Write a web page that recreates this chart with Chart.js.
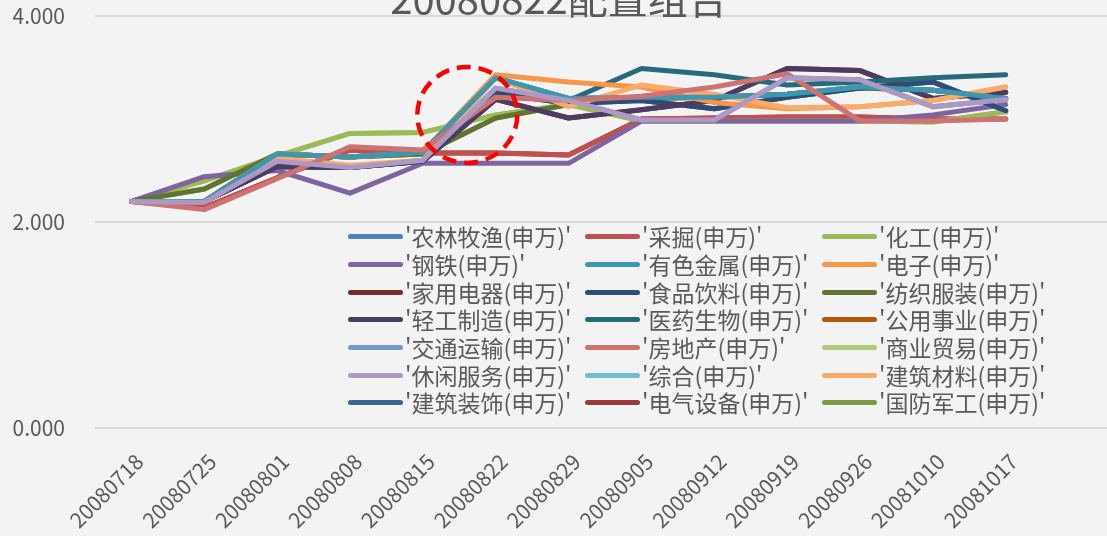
<!DOCTYPE html>
<html lang="zh">
<head>
    <meta charset="UTF-8">
    <title>20080822配置组合</title>
    <script src="https://cdn.jsdelivr.net/npm/chart.js"></script>
    <style>
        body {
            margin: 0;
            padding: 0;
            background-color: #f3f3f3;
            overflow: hidden;
            font-family: 'Noto Sans CJK SC', 'Noto Sans', sans-serif;
            color: #595959;
        }

        .wrap {
            position: relative;
            width: 1107px;
            height: 536px;
            overflow: hidden;
        }

        canvas {
            position: absolute;
            left: 0;
            top: 0;
        }

        .title {
            position: absolute;
            left: 0;
            width: 1118px;
            top: -23px;
            text-align: center;
            font-size: 40px;
            line-height: 40px;
            white-space: nowrap;
        }

        .legend {
            position: absolute;
            left: 348px;
            top: 223px;
            display: grid;
            grid-template-columns: 237px 237px 237px;
            grid-auto-rows: 27.7px;
        }

        .legend-item {
            display: flex;
            align-items: center;
            white-space: nowrap;
        }

        .legend-item span.swatch {
            display: inline-block;
            width: 55px;
            height: 5px;
            border-radius: 3px;
            margin-right: 2px;
        }

        .legend-item span.label {
            font-size: 23px;
            line-height: 1;
        }
    </style>
</head>
<body>
    <div class="wrap">
        <canvas id="chart" width="1115" height="560"></canvas>
        <div class="title">20080822配置组合</div>
        <div class="legend" id="legend"></div>
    </div>

    <script>
        // 日期（横轴）
        const dates = ['20080718', '20080725', '20080801', '20080808', '20080815', '20080822', '20080829',
                       '20080905', '20080912', '20080919', '20080926', '20081010', '20081017'];

        // 各行业指数
        const nonglin   = [2.20, 2.19, 2.59, 2.53, 2.60, 3.30, 3.18, 2.99, 2.99, 3.40, 3.38, 3.12, 3.19];
        const caijue    = [2.20, 2.14, 2.43, 2.70, 2.67, 2.67, 2.65, 3.00, 3.01, 3.02, 3.02, 3.00, 3.00];
        const huagong   = [2.20, 2.40, 2.64, 2.86, 2.87, 3.04, 3.14, 2.98, 2.98, 2.98, 2.98, 2.97, 3.07];
        const gangtie   = [2.20, 2.44, 2.50, 2.28, 2.57, 2.57, 2.57, 2.98, 2.98, 2.98, 2.98, 3.04, 3.14];
        const youse     = [2.20, 2.20, 2.66, 2.63, 2.68, 3.40, 3.20, 3.21, 3.21, 3.24, 3.31, 3.28, 3.20];
        const dianzi    = [2.20, 2.20, 2.66, 2.63, 2.68, 3.43, 3.36, 3.31, 3.16, 3.10, 3.12, 3.18, 3.31];
        const jiadian   = [2.20, 2.20, 2.54, 2.53, 2.59, 3.19, 3.01, 3.09, 3.18, 3.49, 3.47, 3.20, 3.26];
        const shipin    = [2.20, 2.20, 2.54, 2.53, 2.59, 3.25, 3.15, 3.18, 3.10, 3.21, 3.30, 3.36, 3.08];
        const fangzhi   = [2.20, 2.32, 2.66, 2.63, 2.66, 3.01, 3.14, 3.20, 3.21, 3.24, 3.30, 3.28, 3.20];
        const qinggong  = [2.20, 2.20, 2.54, 2.53, 2.59, 3.19, 3.01, 3.09, 3.18, 3.49, 3.47, 3.20, 3.26];
        const yiyao     = [2.20, 2.20, 2.66, 2.63, 2.68, 3.40, 3.18, 3.49, 3.43, 3.33, 3.36, 3.40, 3.43];
        const gongyong  = [2.20, 2.20, 2.66, 2.63, 2.68, 3.40, 3.20, 3.21, 3.21, 3.24, 3.31, 3.28, 3.20];
        const jiaotong  = [2.20, 2.20, 2.66, 2.63, 2.68, 3.40, 3.20, 3.21, 3.21, 3.24, 3.31, 3.28, 3.20];
        const fangdichan = [2.20, 2.12, 2.42, 2.73, 2.70, 3.21, 3.18, 3.22, 3.31, 3.44, 2.98, 2.98, 3.00];
        const shangye   = [2.20, 2.40, 2.64, 2.86, 2.87, 3.04, 3.14, 2.98, 2.98, 2.98, 2.98, 2.97, 3.07];
        const xiuxian   = [2.20, 2.19, 2.59, 2.53, 2.60, 3.30, 3.18, 2.99, 2.99, 3.40, 3.38, 3.12, 3.19];
        const zonghe    = [2.20, 2.20, 2.66, 2.63, 2.68, 3.40, 3.20, 3.21, 3.21, 3.24, 3.31, 3.28, 3.20];
        const jiancai   = [2.20, 2.20, 2.62, 2.55, 2.60, 3.40, 3.12, 3.33, 3.24, 3.11, 3.12, 3.18, 3.31];
        const jianzhu   = [2.20, 2.20, 2.54, 2.53, 2.59, 3.25, 3.15, 3.18, 3.10, 3.21, 3.30, 3.36, 3.08];
        const dianqi    = [2.20, 2.14, 2.43, 2.70, 2.67, 2.67, 2.65, 3.00, 3.01, 3.02, 3.02, 3.00, 3.00];
        const guofang   = [2.20, 2.32, 2.66, 2.63, 2.66, 3.01, 3.14, 3.20, 3.21, 3.24, 3.30, 3.28, 3.20];

        const seriesNames = ["'农林牧渔(申万)'", "'采掘(申万)'", "'化工(申万)'",
                             "'钢铁(申万)'", "'有色金属(申万)'", "'电子(申万)'",
                             "'家用电器(申万)'", "'食品饮料(申万)'", "'纺织服装(申万)'",
                             "'轻工制造(申万)'", "'医药生物(申万)'", "'公用事业(申万)'",
                             "'交通运输(申万)'", "'房地产(申万)'", "'商业贸易(申万)'",
                             "'休闲服务(申万)'", "'综合(申万)'", "'建筑材料(申万)'",
                             "'建筑装饰(申万)'", "'电气设备(申万)'", "'国防军工(申万)'"];
        const seriesValues = [nonglin, caijue, huagong, gangtie, youse, dianzi, jiadian, shipin, fangzhi,
                              qinggong, yiyao, gongyong, jiaotong, fangdichan, shangye, xiuxian, zonghe,
                              jiancai, jianzhu, dianqi, guofang];
        const seriesColors = ['#4F81BD', '#C0504D', '#9BBB59', '#8064A2', '#3D97B1', '#F79646',
                              '#772C2A', '#2C4D75', '#5F7530', '#4D3B62', '#276A7C', '#B65708',
                              '#729ACA', '#CD7371', '#AFC97A', '#AC9AC4', '#6FBDD1', '#F9AB6B',
                              '#3A6595', '#9C3C39', '#7E9B44'];

        // 绘制层次：从下到上
        const zStack = [0, 6, 11, 12, 14, 16, 18, 19, 20,
                        1, 2, 3, 8, 7, 9, 10, 5, 17, 4, 13, 15];

        const datasets = seriesNames.map((name, i) => ({
            label: name,
            data: seriesValues[i],
            borderColor: seriesColors[i],
            backgroundColor: seriesColors[i],
            borderWidth: 5,
            borderCapStyle: 'round',
            borderJoinStyle: 'round',
            pointRadius: 0,
            pointHoverRadius: 0,
            tension: 0,
            fill: false,
            order: -zStack.indexOf(i)
        }));

        // 红色虚线圈
        const circlePlugin = {
            id: 'redCircle',
            afterDatasetsDraw(chart) {
                const ctx = chart.ctx;
                const x = chart.scales.x.getPixelForValue(4.61);
                const y = chart.scales.y.getPixelForValue(3.04);
                ctx.save();
                ctx.strokeStyle = '#ff0000';
                ctx.lineWidth = 4.5;
                ctx.setLineDash([14, 8]);
                ctx.beginPath();
                ctx.ellipse(x, y, 50, 48, 0, 0, Math.PI * 2);
                ctx.stroke();
                ctx.restore();
            }
        };

        const chart = new Chart(document.getElementById('chart').getContext('2d'), {
            type: 'line',
            data: {
                labels: dates.concat(['']),   // 右侧还有一个空的类别位置
                datasets: datasets
            },
            options: {
                responsive: false,
                animation: false,
                devicePixelRatio: 1,
                layout: {
                    padding: { top: 16, left: 0, right: 0, bottom: 0 }
                },
                plugins: {
                    legend: { display: false },
                    title: { display: false },
                    tooltip: { enabled: false }
                },
                scales: {
                    x: {
                        offset: true,
                        grid: { display: false },
                        border: { display: false },
                        ticks: {
                            autoSkip: false,
                            minRotation: 45,
                            maxRotation: 45,
                            labelOffset: 8,
                            padding: 13,
                            color: '#595959',
                            font: { family: "'Noto Sans CJK SC'", size: 21 }
                        },
                        afterFit(scale) {
                            scale.height = 132;
                        }
                    },
                    y: {
                        min: 0,
                        max: 4,
                        ticks: {
                            stepSize: 2,
                            padding: 30,
                            color: '#595959',
                            font: { family: "'Noto Sans CJK SC'", size: 21 },
                            callback: v => v.toFixed(3)
                        },
                        grid: {
                            color: '#d9d9d9',
                            lineWidth: 2,
                            drawTicks: false
                        },
                        border: { display: false },
                        afterFit(scale) {
                            scale.width = 95;
                            // 刻度间距不要撑大上下边距
                            scale.paddingTop = 0;
                            scale.paddingBottom = 0;
                        }
                    }
                }
            },
            plugins: [circlePlugin]
        });

        // 图例（三列，放在绘图区内）
        const legendBox = document.getElementById('legend');
        chart.data.datasets.forEach(ds => {
            const item = document.createElement('div');
            item.className = 'legend-item';
            const sw = document.createElement('span');
            sw.className = 'swatch';
            sw.style.backgroundColor = ds.borderColor;
            const txt = document.createElement('span');
            txt.className = 'label';
            txt.textContent = ds.label;
            item.appendChild(sw);
            item.appendChild(txt);
            legendBox.appendChild(item);
        });
    </script>
</body>
</html>
